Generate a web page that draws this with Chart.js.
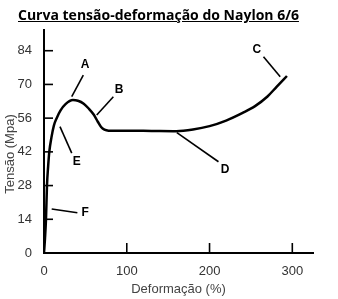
<!DOCTYPE html>
<html>
<head>
<meta charset="utf-8">
<script src="https://cdn.jsdelivr.net/npm/chart.js@4/dist/chart.umd.min.js"></script>
<style>
  html, body { margin: 0; padding: 0; background: #fff; }
  #wrap { position: relative; width: 338px; height: 299px; }
  #title {
    position: absolute; left: 18px; top: 5px;
    font: bold 14px "Open Sans", sans-serif; color: #000;
    text-decoration: underline; white-space: nowrap;
  }
  canvas { position: absolute; left: 0; top: 0; }
</style>
</head>
<body>
<div id="wrap">
  <canvas id="chart" width="338" height="299"></canvas>
  <div id="title">Curva tensão-deformação do Naylon 6/6</div>
</div>
<script>
// curve (deformation %, stress MPa)
const strain = [0, 1.2, 2.4, 3.6, 5, 6.4, 9, 12, 15.3, 20, 26, 35, 41, 48, 54, 60, 65, 69, 73, 78, 100, 130, 160, 180, 200, 220, 240, 255, 270, 281, 293.5];
const stress = [0, 6, 14, 28, 36, 42, 48, 53, 56, 59.2, 61.8, 63.5, 63.2, 62, 60, 57.5, 54.5, 52.3, 51.2, 50.8, 50.8, 50.7, 50.6, 51.3, 52.7, 55, 58.2, 61, 65, 69, 73.5];

const xTicks = [0, 100, 200, 300];
const yTicks = [0, 14, 28, 42, 56, 70, 84];

// letter callouts and their leader lines (data units)
const markLetters = ['A', 'B', 'C', 'D', 'E', 'F'];
const markLabelX = [49.6, 90.7, 257.2, 218.9, 39.5, 49.6];
const markLabelY = [78.1, 68.0, 84.3, 34.5, 37.9, 16.7];
const leaderX1 = [33.5, 63.7, 265.2, 160.5, 19.3, 9.3];
const leaderY1 = [64.9, 57.3, 81.5, 50.0, 52.5, 18.3];
const leaderX2 = [47.5, 83.8, 285.4, 210.8, 33.5, 40.3];
const leaderY2 = [73.9, 64.9, 73.2, 37.9, 41.5, 16.7];

const datasets = [{
  data: strain.map((x, i) => ({ x: x, y: stress[i] })),
  borderColor: '#000',
  borderWidth: 2.5,
  pointRadius: 0,
  cubicInterpolationMode: 'monotone'
}];
markLetters.forEach((m, i) => {
  datasets.push({
    data: [{ x: leaderX1[i], y: leaderY1[i] }, { x: leaderX2[i], y: leaderY2[i] }],
    borderColor: '#000',
    borderWidth: 1.6,
    pointRadius: 0
  });
});

// tick marks pointing into the plot, like the scan
const innerTicks = {
  id: 'innerTicks',
  afterDraw(chart) {
    const ctx = chart.ctx;
    const a = chart.chartArea;
    ctx.save();
    ctx.strokeStyle = '#000';
    ctx.lineWidth = 1.6;
    chart.scales.x.ticks.forEach(t => {
      const px = chart.scales.x.getPixelForValue(t.value);
      ctx.beginPath(); ctx.moveTo(px, a.bottom); ctx.lineTo(px, a.bottom - 10); ctx.stroke();
    });
    chart.scales.y.ticks.forEach(t => {
      const py = chart.scales.y.getPixelForValue(t.value);
      ctx.beginPath(); ctx.moveTo(a.left, py); ctx.lineTo(a.left + 9, py); ctx.stroke();
    });
    ctx.restore();
  }
};

const letters = {
  id: 'letters',
  afterDatasetsDraw(chart) {
    const ctx = chart.ctx;
    ctx.save();
    ctx.fillStyle = '#000';
    ctx.font = 'bold 12px "Liberation Sans", Arial, sans-serif';
    ctx.textAlign = 'center';
    ctx.textBaseline = 'middle';
    markLetters.forEach((m, i) => {
      ctx.fillText(m, chart.scales.x.getPixelForValue(markLabelX[i]), chart.scales.y.getPixelForValue(markLabelY[i]));
    });
    ctx.restore();
  }
};

const yTitle = {
  id: 'yTitle',
  afterDraw(chart) {
    const ctx = chart.ctx;
    ctx.save();
    ctx.translate(10, 154);
    ctx.rotate(-Math.PI / 2);
    ctx.fillStyle = '#444';
    ctx.font = '13px "Liberation Sans", Arial, sans-serif';
    ctx.textAlign = 'center';
    ctx.textBaseline = 'middle';
    ctx.fillText('Tensão (Mpa)', 0, 0);
    ctx.restore();
  }
};

new Chart(document.getElementById('chart'), {
  type: 'line',
  data: { datasets: datasets },
  plugins: [innerTicks, letters, yTitle],
  options: {
    responsive: false,
    animation: false,
    layout: { padding: { top: 30, right: 25, left: 0, bottom: 0 } },
    plugins: { legend: { display: false }, tooltip: { enabled: false } },
    scales: {
      x: {
        type: 'linear',
        min: 0,
        max: 325,
        afterBuildTicks: s => { s.ticks = xTicks.map(v => ({ value: v })); },
        afterFit: s => { s.height = 46; },
        grid: { display: false },
        border: { display: true, color: '#000', width: 2 },
        ticks: { color: '#333', padding: 3, font: { family: '"Liberation Sans", Arial', size: 13 } },
        title: {
          display: true,
          text: 'Deformação (%)',
          color: '#444',
          padding: { top: 6, bottom: 2 },
          font: { family: '"Liberation Sans", Arial', size: 13 }
        }
      },
      y: {
        min: 0,
        max: 92.6,
        afterBuildTicks: s => { s.ticks = yTicks.map(v => ({ value: v })); },
        afterFit: s => { s.width = 44; },
        grid: { display: false },
        border: { display: true, color: '#000', width: 2 },
        ticks: { color: '#333', padding: 4, font: { family: '"Liberation Sans", Arial', size: 13 } }
      }
    }
  }
});
</script>
</body>
</html>
